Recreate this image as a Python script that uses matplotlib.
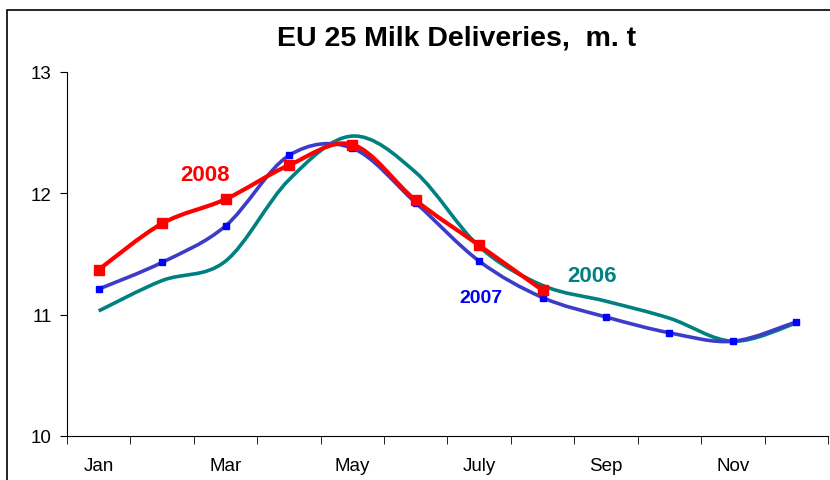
import numpy as np
import matplotlib.pyplot as plt
from matplotlib.path import Path
from matplotlib.patches import PathPatch, Rectangle

plt.rcParams['font.family'] = ['Liberation Sans', 'DejaVu Sans']

# Data (million tonnes)
months = ['Jan', 'Feb', 'Mar', 'Apr', 'May', 'Jun', 'July', 'Aug', 'Sep', 'Oct', 'Nov', 'Dec']
milk_2006 = [11.03, 11.28, 11.44, 12.11, 12.47, 12.17, 11.56, 11.24, 11.11, 10.97, 10.78, 10.93]
milk_2007 = [11.21, 11.43, 11.73, 12.31, 12.37, 11.92, 11.44, 11.14, 10.98, 10.85, 10.78, 10.94]
milk_2008 = [11.37, 11.75, 11.95, 12.23, 12.40, 11.94, 11.57, 11.20]


def smooth_path(xs, ys):
    # Excel style smoothed line: Catmull-Rom converted to cubic Bezier segments
    pts = np.column_stack([xs, ys]).astype(float)
    verts = [pts[0]]
    codes = [Path.MOVETO]
    n = len(pts)
    for i in range(n - 1):
        p0 = pts[max(i - 1, 0)]
        p1 = pts[i]
        p2 = pts[i + 1]
        p3 = pts[min(i + 2, n - 1)]
        c1 = p1 + (p2 - p0) / 6.0
        c2 = p2 - (p3 - p1) / 6.0
        verts += [c1, c2, p2]
        codes += [Path.CURVE4] * 3
    return Path(verts, codes)


fig = plt.figure(figsize=(8.3, 4.81), dpi=100)
ax = fig.add_axes([67 / 830, 1 - 437 / 481, 761 / 830, (437 - 72.7) / 481])

# outer frame of the chart area
fig.patches.append(Rectangle((7 / 830, -0.2), 1.2, 1.2 - 11 / 481, transform=fig.transFigure,
                             fill=False, edgecolor='black', linewidth=1.2, clip_on=False))

x = np.arange(len(months))

ax.add_patch(PathPatch(smooth_path(x, milk_2006), fill=False, edgecolor='#008080', linewidth=2.6, zorder=2))
ax.add_patch(PathPatch(smooth_path(x, milk_2007), fill=False, edgecolor='#3c3cc8', linewidth=2.6, zorder=3))
ax.plot(x, milk_2007, linestyle='none', marker='s', markersize=4.5, color='#0000ff', zorder=4)
ax.add_patch(PathPatch(smooth_path(x[:len(milk_2008)], milk_2008), fill=False, edgecolor='#ff0000',
                       linewidth=3.0, zorder=5))
ax.plot(x[:len(milk_2008)], milk_2008, linestyle='none', marker='s', markersize=7, color='#ff0000', zorder=6)

ax.text(1.67, 12.15, '2008', color='#ff0000', fontsize=16, fontweight='bold', ha='center', va='center')
ax.text(6.03, 11.14, '2007', color='#0000ff', fontsize=14, fontweight='bold', ha='center', va='center')
ax.text(7.78, 11.32, '2006', color='#008080', fontsize=16, fontweight='bold', ha='center', va='center')

ax.set_xlim(-0.5, 11.5)
ax.set_ylim(10, 13)
ax.set_yticks([10, 11, 12, 13])
ax.set_xticks(x[::2])
ax.set_xticklabels(months[::2])
ax.set_xticks(np.arange(-0.5, 12, 1), minor=True)
ax.tick_params(axis='x', which='major', length=0, pad=15, labelsize=13.5)
ax.tick_params(axis='x', which='minor', length=6, direction='out')
ax.tick_params(axis='y', length=5, direction='out', labelsize=13.5, pad=6)

ax.spines['top'].set_visible(False)
ax.spines['right'].set_visible(False)

fig.text(457 / 830, 1 - 38 / 481, 'EU 25 Milk Deliveries,  m. t', fontsize=20.5, fontweight='bold',
         ha='center', va='center')

fig.savefig('out.png', dpi=100)
